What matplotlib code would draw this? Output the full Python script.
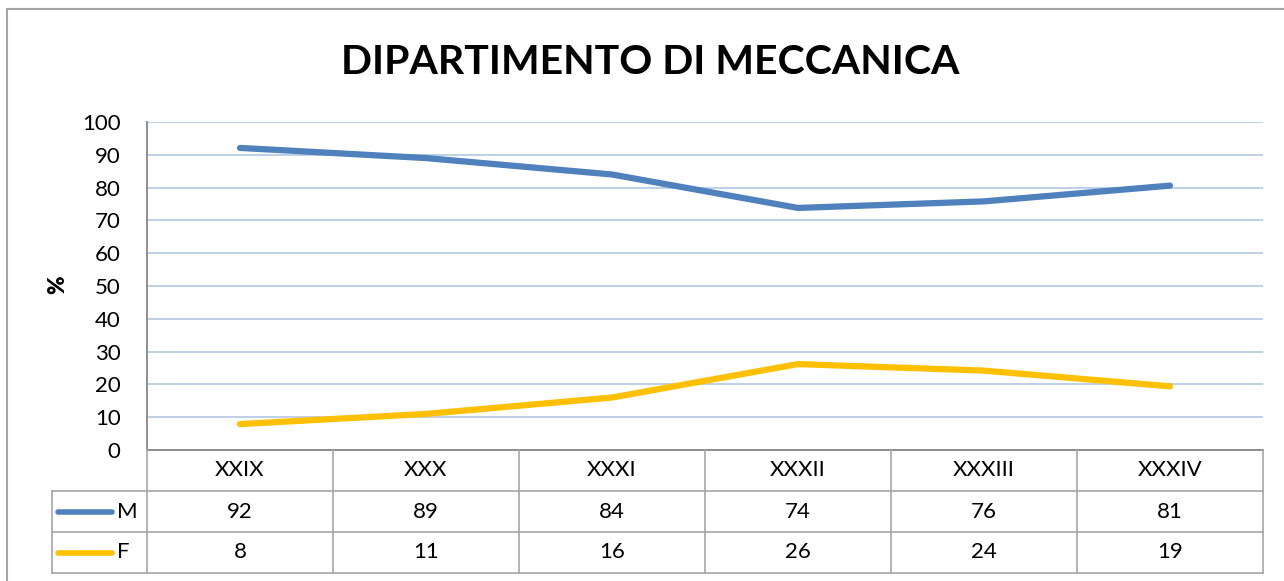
import matplotlib.pyplot as plt
from matplotlib.lines import Line2D

categories = ['XXIX', 'XXX', 'XXXI', 'XXXII', 'XXXIII', 'XXXIV']
m_values = [92.1, 89.0, 84.0, 73.8, 75.8, 80.6]
f_values = [7.9, 11.0, 16.0, 26.2, 24.2, 19.4]
series = [('M', m_values, '#4F81BD'), ('F', f_values, '#FFC000')]

plt.rcParams['font.family'] = ['Lato', 'DejaVu Sans']

W, H = 1284, 581
fig = plt.figure(figsize=(W / 100, H / 100), dpi=100)

# plot area in pixels
px_left, px_right, px_top, px_bottom = 147, 1263, 122, 450
ax = fig.add_axes([px_left / W, 1 - px_bottom / H,
                   (px_right - px_left) / W, (px_bottom - px_top) / H])

x = list(range(len(categories)))
for name, vals, col in series:
    ax.plot(x, vals, color=col, lw=4.5, solid_capstyle='round', zorder=3)

ax.set_xlim(-0.5, len(categories) - 0.5)
ax.set_ylim(0, 100)
ax.set_yticks(range(0, 101, 10))
ax.set_xticks([])
ax.tick_params(axis='y', length=0, pad=19, labelsize=16)
ax.grid(axis='y', color='#B9CDE5', lw=1.3)
ax.set_axisbelow(True)
for s in ['top', 'right']:
    ax.spines[s].set_visible(False)
ax.spines['left'].set_color('#868686')
ax.spines['bottom'].set_color('#868686')
ax.spines['left'].set_linewidth(1.3)
ax.spines['bottom'].set_linewidth(1.3)

fig.text(650 / W, 1 - 62 / H, 'DIPARTIMENTO DI MECCANICA', ha='center', va='center',
         fontsize=29.5, fontweight='bold')
fig.text(58 / W, 1 - 285 / H, '%', ha='center', va='center', rotation=90,
         fontsize=16, fontweight='heavy')

# data table below the plot area
tb_left, tb_bottom = 52, 573
col_w = (px_right - px_left) / len(categories)
tax = fig.add_axes([tb_left / W, 1 - tb_bottom / H,
                    (px_right - tb_left) / W, (tb_bottom - px_bottom) / H])
tax.set_xlim(-0.5 - (px_left - tb_left) / col_w, len(categories) - 0.5)
tax.set_ylim(3, 0)
tax.axis('off')
x0 = tax.get_xlim()[0]
grey = '#A6A6A6'
for r in (1, 2, 3):
    tax.plot([x0, len(categories) - 0.5], [r, r], color=grey, lw=1.2, clip_on=False)
for i in range(len(categories) + 1):
    tax.plot([i - 0.5, i - 0.5], [0, 3], color=grey, lw=1.2, clip_on=False)
tax.plot([x0, x0], [1, 3], color=grey, lw=1.2, clip_on=False)

for i, c in enumerate(categories):
    tax.text(i, 0.5, c, ha='center', va='center', fontsize=16)
for r, (name, vals, col) in enumerate(series, start=1):
    tax.add_line(Line2D([x0 + 0.03, x0 + 0.32], [r + 0.5, r + 0.5], color=col,
                        lw=4, solid_capstyle='round'))
    tax.text(x0 + 0.35, r + 0.5, name, ha='left', va='center', fontsize=16)
    for i, v in enumerate(vals):
        tax.text(i, r + 0.5, f'{round(v)}', ha='center', va='center', fontsize=16)

# chart frame
fig.add_artist(Line2D([7 / W, 7 / W], [0, 1 - 9 / H], color='#A6A6A6', lw=1.5))
fig.add_artist(Line2D([7 / W, 1], [1 - 9 / H, 1 - 9 / H], color='#A6A6A6', lw=1.5))

fig.savefig('out.png', dpi=100)
